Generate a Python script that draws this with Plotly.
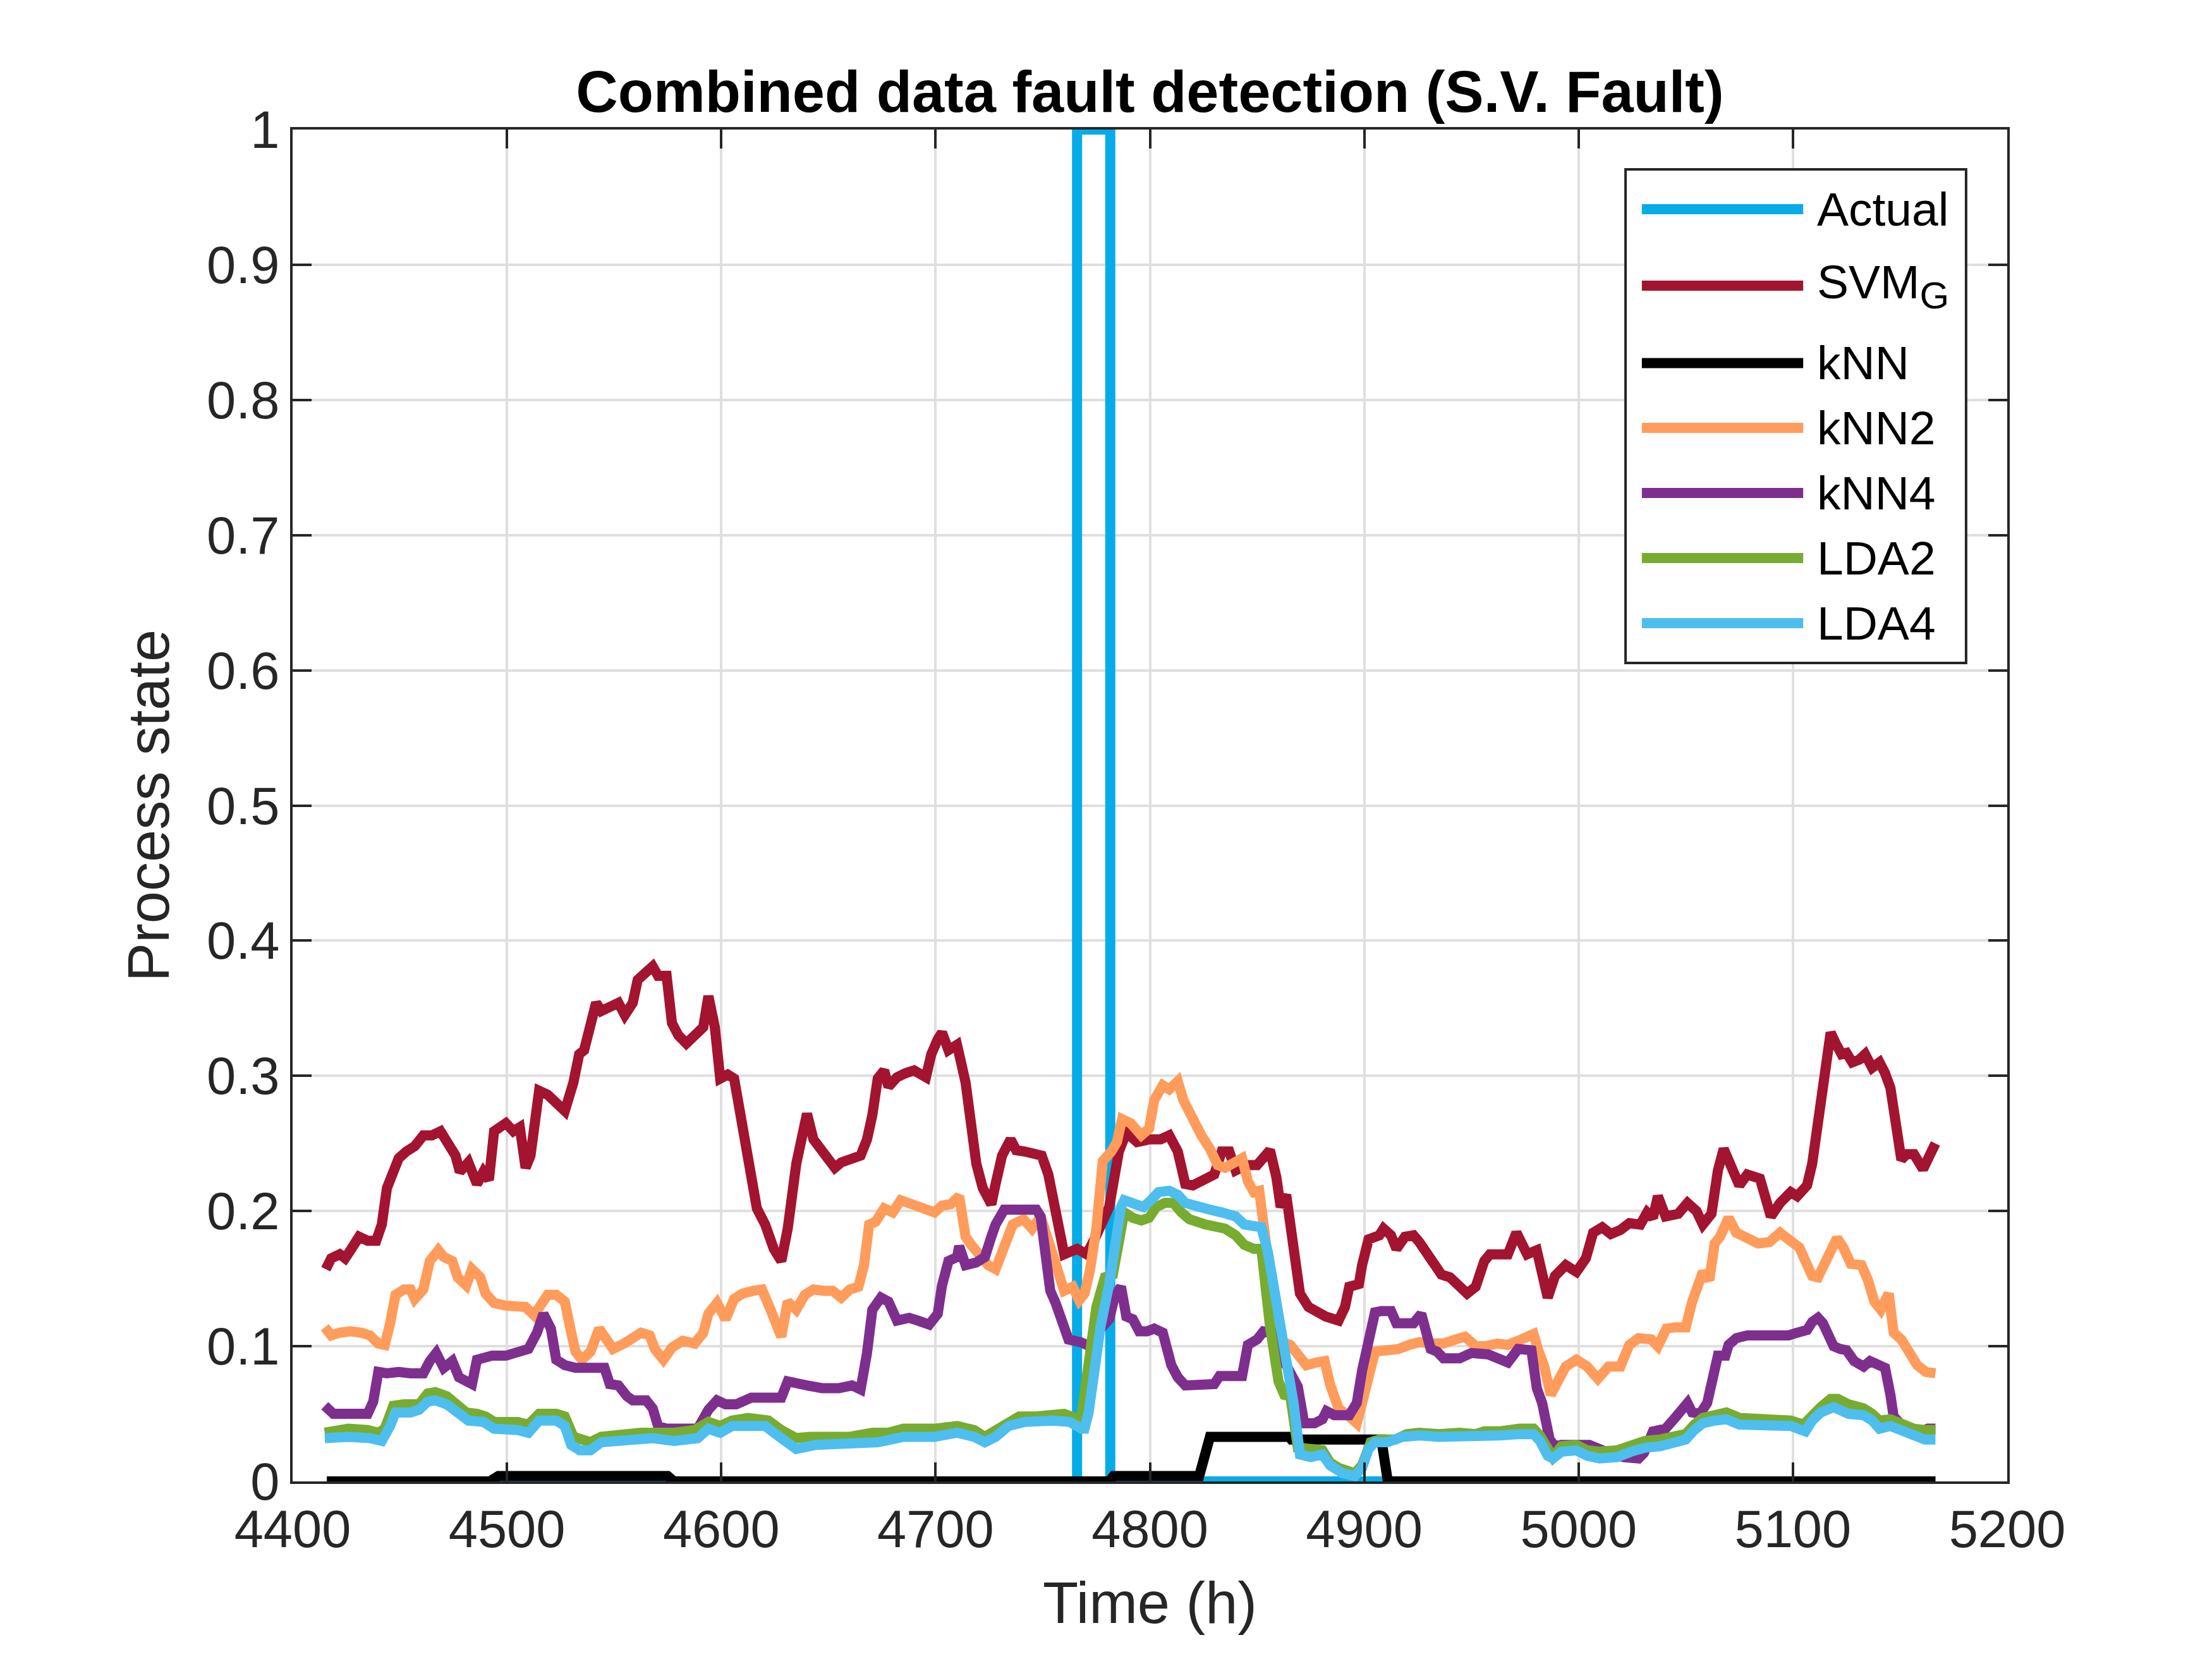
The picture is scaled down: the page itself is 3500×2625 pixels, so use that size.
import plotly.graph_objects as go

# time (h) and values, one pair of lists per series
t_actual = [4416, 4766, 4766, 4781.5, 4781.5, 5166.5]
v_actual = [0, 0, 1, 1, 0, 0]

t_svm = [4415.5, 4418, 4422, 4424.5, 4427, 4431, 4435, 4439, 4441.6, 4444, 4447, 4449.5, 4453, 4457, 4461,
         4465, 4469, 4473, 4476, 4478, 4482, 4486, 4489, 4491.6, 4494, 4499.5, 4503, 4506, 4508.7, 4511,
         4515, 4519, 4523, 4527, 4531, 4533.7, 4536, 4539, 4541.6, 4544, 4548, 4552, 4555, 4558.7, 4561,
         4565, 4568, 4570.5, 4574.5, 4577, 4580, 4583.7, 4587.6, 4591.6, 4594, 4597, 4599.5, 4603, 4606,
         4608.7, 4611, 4614, 4616.6, 4620.5, 4624.5, 4628, 4631, 4635, 4637.6, 4640, 4643, 4645.5, 4648,
         4651, 4653, 4656, 4661, 4665, 4668, 4670.5, 4673, 4676, 4678, 4682, 4686, 4690, 4695.5, 4698,
         4701, 4703, 4706, 4710, 4714, 4716.6, 4719, 4722, 4726, 4728, 4731, 4735, 4737.6, 4741.6, 4745.5,
         4749.5, 4752.6, 4756, 4760, 4766, 4770.5, 4775, 4781, 4785.5, 4789, 4794, 4799.6, 4805, 4809,
         4813, 4816.5, 4820, 4826, 4830, 4833.5, 4837, 4840, 4845, 4850, 4853, 4856, 4859, 4861, 4863.6,
         4867, 4870, 4874, 4877.7, 4882, 4888, 4891, 4893, 4897.5, 4899, 4902, 4907, 4909, 4912.5, 4915,
         4919, 4923, 4925.7, 4929.5, 4933, 4936, 4940, 4943.6, 4948, 4952, 4956, 4958.6, 4963, 4967,
         4971, 4973.7, 4976, 4980.5, 4983, 4985.6, 4989, 4994, 4999, 5003.4, 5006.8, 5011, 5015, 5019.5,
         5023.7, 5028.8, 5032, 5034.7, 5037, 5040.6, 5046.5, 5050.8, 5055, 5058, 5062, 5065, 5067.7, 5072,
         5075, 5078.7, 5084.6, 5087, 5089.7, 5094, 5099, 5102, 5106.6, 5109, 5111.7, 5114, 5117.6, 5120,
         5122.7, 5125, 5127.7, 5131, 5133.7, 5137, 5140.4, 5143, 5145.5, 5148, 5150.6, 5153, 5156.5,
         5160.7, 5163, 5166.5]
v_svm = [0.157, 0.165, 0.168, 0.165, 0.171, 0.181, 0.178, 0.178, 0.190, 0.217, 0.229, 0.239, 0.244, 0.248, 0.256,
         0.256, 0.259, 0.250, 0.241, 0.229, 0.236, 0.220, 0.229, 0.223, 0.259, 0.265, 0.259, 0.262, 0.232, 0.241,
         0.289, 0.286, 0.280, 0.274, 0.295, 0.316, 0.319, 0.336, 0.354, 0.348, 0.351, 0.354, 0.345, 0.354, 0.371,
         0.377, 0.381, 0.374, 0.374, 0.339, 0.330, 0.324, 0.329, 0.336, 0.359, 0.336, 0.298, 0.301, 0.298,
         0.271, 0.247, 0.217, 0.202, 0.190, 0.172, 0.163, 0.187, 0.235, 0.259, 0.272, 0.253, 0.247, 0.241,
         0.235, 0.232, 0.236, 0.239, 0.241, 0.253, 0.271, 0.298, 0.304, 0.292, 0.299, 0.302, 0.304, 0.299, 0.316,
         0.327, 0.332, 0.319, 0.323, 0.295, 0.265, 0.235, 0.217, 0.205, 0.220, 0.241, 0.253, 0.245, 0.244, 0.242,
         0.241, 0.227, 0.196, 0.168, 0.172, 0.168, 0.182, 0.203, 0.244, 0.258, 0.251, 0.253, 0.253, 0.256,
         0.244, 0.220, 0.219, 0.224, 0.227, 0.244, 0.244, 0.230, 0.234, 0.234, 0.239, 0.245, 0.225, 0.203, 0.212,
         0.165, 0.139, 0.129, 0.125, 0.122, 0.119, 0.129, 0.144, 0.146, 0.160, 0.179, 0.182, 0.187, 0.182, 0.172,
         0.181, 0.182, 0.177, 0.168, 0.163, 0.153, 0.151, 0.146, 0.139, 0.144, 0.163, 0.168, 0.168, 0.168,
         0.184, 0.177, 0.168, 0.171, 0.152, 0.136, 0.152, 0.160, 0.155, 0.165, 0.184, 0.188, 0.183, 0.186,
         0.191, 0.190, 0.199, 0.195, 0.211, 0.196, 0.198, 0.206, 0.200, 0.190, 0.198, 0.230, 0.246, 0.227,
         0.219, 0.227, 0.224, 0.211, 0.196, 0.206, 0.214, 0.211, 0.219, 0.235, 0.267, 0.294, 0.332, 0.324,
         0.316, 0.317, 0.310, 0.312, 0.316, 0.306, 0.310, 0.302, 0.291, 0.265, 0.238, 0.242, 0.242,
         0.231, 0.240, 0.250]

t_knn = [4416, 4492, 4496, 4575, 4578, 4781, 4783, 4823, 4828, 4865, 4866, 4908, 4911, 5166.5]
v_knn = [0, 0, 0.004, 0.004, 0, 0, 0.004, 0.004, 0.033, 0.033, 0.031, 0.031, 0, 0]

t_knn2 = [4415, 4418, 4422, 4427, 4432, 4436, 4440, 4443, 4445.5, 4448, 4452, 4455, 4457, 4461, 4464, 4468,
          4470.5, 4474.5, 4477, 4481, 4483.7, 4487.6, 4490, 4494, 4499.5, 4505, 4508.7, 4512.6, 4515, 4519,
          4523, 4527, 4530, 4532, 4535, 4539, 4543, 4545.5, 4549.5, 4554.7, 4558.7, 4562.6, 4566.6, 4569,
          4573, 4577, 4582, 4587.6, 4591.6, 4594, 4598, 4602, 4606, 4610, 4615, 4619, 4623, 4626, 4628, 4631,
          4635, 4639, 4643, 4648, 4652, 4656, 4660, 4664, 4666.6, 4669, 4672, 4676, 4680, 4683.7, 4689, 4694,
          4699.5, 4703, 4707, 4711, 4714, 4716.6, 4720.5, 4724.5, 4728, 4732, 4736, 4741, 4745, 4749, 4752.6,
          4756, 4760, 4764, 4767, 4769.5, 4772, 4775, 4778, 4782, 4784.6, 4787, 4791, 4796, 4799.6, 4802,
          4806, 4809, 4813, 4815.6, 4819, 4824, 4828, 4831.6, 4835, 4840, 4843, 4845.7, 4848.5, 4851, 4854,
          4858, 4862, 4865.5, 4869, 4873, 4877.7, 4881.5, 4884, 4888, 4893, 4896.5, 4899, 4902, 4905, 4910.6,
          4916, 4921, 4925.7, 4931, 4937, 4942.6, 4947, 4952, 4956.7, 4962, 4967, 4971.8, 4975, 4979, 4981,
          4984, 4987, 4990.7, 4994, 4999, 5004, 5009, 5014, 5019.5, 5023.7, 5028, 5034, 5037, 5041, 5045,
          5050, 5053, 5056, 5058, 5061, 5063.5, 5066, 5070, 5073.6, 5078.7, 5083.8, 5089, 5094, 5098, 5103,
          5105.8, 5109, 5111.7, 5115, 5117.6, 5120.6, 5123.5, 5127, 5132, 5135, 5138, 5141, 5144.7, 5147,
          5150.6, 5154, 5158, 5162, 5166.5]
v_knn2 = [0.114, 0.108, 0.110, 0.111, 0.110, 0.108, 0.102, 0.101, 0.117, 0.138, 0.142, 0.142, 0.135, 0.142, 0.163, 0.171,
          0.166, 0.163, 0.151, 0.145, 0.157, 0.151, 0.139, 0.132, 0.130, 0.130, 0.129, 0.123, 0.130, 0.138,
          0.138, 0.133, 0.110, 0.096, 0.090, 0.096, 0.113, 0.107, 0.098, 0.102, 0.107, 0.110, 0.108, 0.098,
          0.090, 0.099, 0.104, 0.102, 0.110, 0.124, 0.132, 0.120, 0.135, 0.139, 0.141, 0.142, 0.127, 0.116, 0.107, 0.133,
          0.127, 0.138, 0.142, 0.141, 0.141, 0.136, 0.142, 0.144, 0.160, 0.190, 0.192, 0.202, 0.199, 0.208, 0.205, 0.202,
          0.199, 0.204, 0.205, 0.211, 0.181, 0.175, 0.166, 0.160, 0.157, 0.175, 0.190, 0.194, 0.187, 0.196, 0.177,
          0.156, 0.141, 0.144, 0.134, 0.139, 0.156, 0.187, 0.237, 0.244, 0.251, 0.268, 0.265, 0.256, 0.261, 0.282,
          0.293, 0.290, 0.296, 0.282, 0.270, 0.256, 0.246, 0.234, 0.232, 0.237, 0.239, 0.222, 0.214, 0.215, 0.177,
          0.129, 0.103, 0.101, 0.094, 0.086, 0.088, 0.089, 0.072, 0.054, 0.048, 0.043, 0.058, 0.074, 0.096, 0.097,
          0.098, 0.101, 0.103, 0.102, 0.102, 0.105, 0.107, 0.100, 0.100, 0.102, 0.101, 0.104, 0.106, 0.109, 0.098,
          0.085, 0.064, 0.074, 0.085, 0.090, 0.085, 0.076, 0.085, 0.085, 0.101, 0.106, 0.105, 0.100, 0.113, 0.114,
          0.114, 0.133, 0.149, 0.155, 0.149, 0.176, 0.181, 0.195, 0.184, 0.180, 0.176, 0.177, 0.184, 0.179, 0.173,
          0.163, 0.152, 0.151, 0.163, 0.173, 0.180, 0.173, 0.161, 0.160, 0.149, 0.133, 0.127, 0.139, 0.110,
          0.105, 0.096, 0.086, 0.081, 0.080]

t_knn4 = [4415, 4419, 4426, 4435, 4437.6, 4440, 4444, 4449.5, 4455, 4461, 4464, 4467, 4470.5, 4474.5, 4477.6,
          4481, 4483.7, 4486, 4489, 4493, 4499.5, 4505, 4510, 4514, 4517, 4520.5, 4523, 4527, 4532, 4539,
          4545.5, 4548, 4552, 4556, 4558.7, 4565, 4568, 4570.5, 4574.5, 4581, 4589, 4594, 4598, 4602, 4607,
          4614, 4620.5, 4628, 4631, 4635, 4640, 4647, 4655, 4661, 4665, 4668, 4670.5, 4674.5, 4678, 4682,
          4687.6, 4691.6, 4697, 4701, 4703, 4706, 4710, 4711, 4714, 4719, 4723, 4726, 4728, 4732, 4737.6,
          4747, 4749, 4751.6, 4753.5, 4756, 4759, 4762, 4767.6, 4772, 4777, 4781, 4783.6, 4786.5, 4789, 4792,
          4795, 4798.7, 4802, 4806, 4810, 4813, 4816.5, 4824, 4830, 4832.5, 4839, 4843, 4845.7, 4850, 4853,
          4857, 4860, 4863.6, 4869, 4872, 4876.8, 4880.5, 4882.4, 4886, 4893, 4896.5, 4899, 4902, 4905, 4908,
          4912.5, 4915, 4923, 4926.6, 4929.5, 4931, 4934, 4937, 4944.5, 4950, 4957.7, 4962, 4967, 4971.8,
          4976, 4978, 4980.5, 4983, 4986.5, 4989, 4992, 4999, 5005, 5012.7, 5021, 5028, 5030.5, 5034.7, 5040.6,
          5045, 5048, 5050.8, 5053, 5056.7, 5060, 5062.6, 5065, 5068.5, 5070, 5073.6, 5078.7, 5089, 5098,
          5102, 5106.6, 5109, 5111.7, 5114, 5116.8, 5119, 5122, 5125, 5128.6, 5133, 5136, 5140.4, 5143,
          5145.5, 5147, 5150.6, 5155.7, 5160, 5163, 5166.5]
v_knn4 = [0.056, 0.050, 0.050, 0.050, 0.059, 0.081, 0.080, 0.081, 0.080, 0.080, 0.089, 0.095, 0.084, 0.089, 0.077,
          0.075, 0.072, 0.090, 0.092, 0.093, 0.093, 0.095, 0.098, 0.110, 0.124, 0.113, 0.090, 0.086, 0.084, 0.084,
          0.084, 0.072, 0.071, 0.063, 0.060, 0.060, 0.054, 0.041, 0.039, 0.039, 0.039, 0.053, 0.060, 0.057, 0.057,
          0.062, 0.062, 0.062, 0.074, 0.072, 0.071, 0.069, 0.069, 0.071, 0.068, 0.095, 0.127, 0.136, 0.133, 0.119,
          0.121, 0.119, 0.116, 0.124, 0.145, 0.163, 0.166, 0.174, 0.160, 0.162, 0.166, 0.181, 0.190, 0.201, 0.201,
          0.201, 0.196, 0.163, 0.141, 0.132, 0.120, 0.105, 0.103, 0.100, 0.113, 0.120, 0.137, 0.144, 0.122, 0.120,
          0.111, 0.111, 0.113, 0.110, 0.086, 0.077, 0.071, 0.071, 0.072, 0.078, 0.078, 0.078, 0.101, 0.105, 0.111,
          0.110, 0.091, 0.086, 0.070, 0.043, 0.043, 0.046, 0.052, 0.049, 0.049, 0.058, 0.082, 0.105, 0.125, 0.126,
          0.126, 0.117, 0.117, 0.124, 0.108, 0.098, 0.096, 0.091, 0.091, 0.095, 0.094, 0.092, 0.088, 0.098,
          0.098, 0.097, 0.069, 0.058, 0.031, 0.026, 0.027, 0.027, 0.027, 0.022, 0.018, 0.017, 0.021, 0.037, 0.039,
          0.047, 0.054, 0.058, 0.051, 0.050, 0.058, 0.077, 0.093, 0.093, 0.101, 0.106, 0.108, 0.108, 0.108,
          0.110, 0.112, 0.118, 0.121, 0.117, 0.109, 0.100, 0.098, 0.097, 0.089, 0.085, 0.089, 0.086, 0.084,
          0.064, 0.048, 0.042, 0.037, 0.037, 0.039, 0.039]

t_lda2 = [4415, 4426, 4435, 4440, 4443, 4447, 4452, 4459, 4463, 4466.6, 4472, 4477, 4481, 4486, 4490, 4494,
          4505, 4510, 4515, 4523, 4527, 4531, 4535, 4539, 4544, 4552, 4562.6, 4573, 4578, 4587.6, 4594, 4599.5,
          4605, 4612.6, 4622, 4628, 4635, 4641.6, 4652, 4660, 4670.5, 4678, 4685, 4699.5, 4710, 4718, 4723,
          4728, 4734, 4739, 4747, 4755, 4760, 4765, 4768, 4772, 4775, 4779, 4782.7, 4785.5, 4788, 4792, 4796,
          4799.6, 4803, 4807, 4811, 4814.7, 4818.4, 4826, 4835, 4840, 4844, 4848.5, 4852, 4856, 4860, 4862.7,
          4865.5, 4869, 4875, 4880.5, 4884, 4888, 4895.6, 4899, 4903, 4907, 4914.4, 4920, 4925.7, 4935, 4944.5,
          4952, 4956, 4963, 4972.6, 4979, 4982, 4985.6, 4988, 4992, 4999, 5004, 5010, 5018, 5024.5, 5031, 5038,
          5045, 5050, 5054, 5058, 5063.5, 5069, 5075, 5084, 5092, 5099, 5105, 5109, 5113, 5117.6, 5121, 5126,
          5133, 5137, 5140.4, 5145.5, 5151, 5156.5, 5161.6, 5166.5]
v_lda2 = [0.036, 0.039, 0.038, 0.036, 0.039, 0.056, 0.057, 0.057, 0.065, 0.066, 0.063, 0.057, 0.051, 0.050, 0.048, 0.044,
          0.044, 0.042, 0.050, 0.050, 0.048, 0.033, 0.030, 0.029, 0.033, 0.035, 0.036, 0.036, 0.036, 0.038, 0.044, 0.041,
          0.045, 0.047, 0.045, 0.038, 0.032, 0.033, 0.033, 0.033, 0.036, 0.036, 0.039, 0.039, 0.041, 0.038, 0.033,
          0.038, 0.045, 0.048, 0.048, 0.050, 0.050, 0.047, 0.047, 0.094, 0.129, 0.151, 0.153, 0.177, 0.199, 0.195, 0.193,
          0.195, 0.203, 0.206, 0.206, 0.199, 0.194, 0.190, 0.187, 0.182, 0.175, 0.172, 0.172, 0.115, 0.074, 0.064,
          0.063, 0.025, 0.024, 0.023, 0.014, 0.010, 0.006, 0.012, 0.029, 0.031, 0.031, 0.035, 0.036, 0.035, 0.036,
          0.035, 0.037, 0.037, 0.039, 0.039, 0.034, 0.022, 0.018, 0.026, 0.027, 0.023, 0.022, 0.023, 0.027, 0.030, 0.031,
          0.033, 0.035, 0.042, 0.047, 0.049, 0.051, 0.047, 0.046, 0.046, 0.045, 0.042, 0.050, 0.055, 0.061, 0.061, 0.057,
          0.054, 0.050, 0.045, 0.046, 0.042, 0.039, 0.038, 0.038]

t_lda4 = [4415, 4426, 4436, 4441.6, 4445.5, 4448, 4455, 4459, 4463, 4466.6, 4472, 4477, 4482, 4489, 4494, 4505,
          4510, 4515, 4523, 4527, 4530, 4534, 4539, 4544, 4552, 4568, 4578, 4589, 4594, 4599.5, 4605, 4620.5,
          4628, 4635, 4644, 4660, 4673, 4685, 4699.5, 4710, 4718, 4723, 4728, 4734, 4741.6, 4755, 4762.6, 4768,
          4769.5, 4771.4, 4774, 4777, 4781, 4783.6, 4786.5, 4788, 4792, 4797, 4800.5, 4804, 4809, 4813, 4816.5,
          4822, 4828, 4833.5, 4840, 4844, 4848.5, 4852, 4855, 4858, 4861.7, 4865.5, 4867, 4870, 4875, 4880.5,
          4884, 4890, 4895.6, 4899, 4902, 4905, 4910.6, 4918, 4925.7, 4935, 4944.5, 4954, 4963, 4972.6, 4979,
          4982, 4985.6, 4988, 4992, 4999, 5004, 5010, 5018, 5024.5, 5031, 5038, 5045, 5050, 5054, 5058, 5063.5,
          5069, 5075, 5084, 5092, 5099, 5105.8, 5109, 5113, 5119, 5126, 5133, 5137, 5140.4, 5145.5, 5151,
          5156.5, 5161.6, 5166.5]
v_lda4 = [0.032, 0.033, 0.032, 0.030, 0.041, 0.051, 0.051, 0.053, 0.059, 0.060, 0.057, 0.051, 0.045, 0.044, 0.039, 0.038,
          0.036, 0.045, 0.045, 0.041, 0.027, 0.023, 0.023, 0.029, 0.030, 0.032, 0.030, 0.032, 0.039, 0.036, 0.041, 0.041,
          0.032, 0.024, 0.027, 0.029, 0.029, 0.033, 0.033, 0.036, 0.033, 0.029, 0.033, 0.041, 0.044, 0.045, 0.044, 0.039,
          0.039, 0.051, 0.084, 0.115, 0.146, 0.175, 0.203, 0.208, 0.206, 0.203, 0.208, 0.214, 0.215, 0.212, 0.206,
          0.203, 0.201, 0.199, 0.196, 0.190, 0.188, 0.188, 0.170, 0.141, 0.105, 0.079, 0.058, 0.020, 0.018, 0.020,
          0.012, 0.006, 0.004, 0.010, 0.024, 0.029, 0.029, 0.033, 0.034, 0.033, 0.033, 0.033, 0.034, 0.035, 0.035,
          0.030, 0.019, 0.017, 0.022, 0.023, 0.019, 0.017, 0.018, 0.022, 0.025, 0.026, 0.029, 0.031, 0.038, 0.043, 0.045,
          0.046, 0.042, 0.042, 0.042, 0.041, 0.037, 0.045, 0.051, 0.055, 0.050, 0.049, 0.045, 0.039, 0.041, 0.037,
          0.033, 0.031, 0.031]

names = ["Actual", "SVM<sub><span style='font-size:60px'>G</span></sub>", "kNN", "kNN2", "kNN4", "LDA2", "LDA4"]
colors = ["#06ACE8", "#A2142F", "#000000", "#FF9C5B", "#7E2F8E", "#77AC30", "#4DBEEE"]
series = [(t_actual, v_actual), (t_svm, v_svm), (t_knn, v_knn), (t_knn2, v_knn2),
          (t_knn4, v_knn4), (t_lda2, v_lda2), (t_lda4, v_lda4)]

axis_col = "#262626"
font_name = "Liberation Sans, Arial, sans-serif"

fig = go.Figure()
for (t, v), name, col in zip(series, names, colors):
    fig.add_trace(go.Scatter(x=t, y=v, mode="lines", name=name,
                             line=dict(color=col, width=16), showlegend=False))

# legend drawn by hand so the line samples are as long as in the original
lx0, lx1 = 0.7774, 0.9760
ly0, ly1 = 0.6054, 0.9706
fig.add_shape(type="rect", xref="paper", yref="paper", x0=lx0, x1=lx1, y0=ly0, y1=ly1,
              line=dict(color=axis_col, width=4), fillcolor="white", layer="above")
row_y = [0.9411, 0.8845, 0.8273, 0.7793, 0.7312, 0.6830, 0.6349]
for name, col, ry in zip(names, colors, row_y):
    fig.add_shape(type="line", xref="paper", yref="paper", x0=0.7869, x1=0.8810, y0=ry, y1=ry,
                  line=dict(color=col, width=16), layer="above")
    fig.add_annotation(xref="paper", yref="paper", x=0.8883, y=ry, text=name, showarrow=False,
                       xanchor="left", yanchor="middle",
                       font=dict(family=font_name, size=75, color="black"))

axis_style = dict(showline=True, linecolor=axis_col, linewidth=4, mirror="ticks",
                  ticks="inside", ticklen=30, tickwidth=4, tickcolor=axis_col,
                  showgrid=True, gridcolor="#DFDFDF", gridwidth=4, zeroline=False,
                  tickfont=dict(family=font_name, size=83, color=axis_col))

fig.update_layout(
    width=3500, height=2625,
    margin=dict(l=455, r=332, t=197, b=289),
    paper_bgcolor="white", plot_bgcolor="white",
    title=dict(text="Combined data fault detection (S.V. Fault)", x=0.5, xref="paper",
               y=0.948, yref="container", yanchor="middle", xanchor="center",
               font=dict(family=font_name, size=92, color="black", weight="bold")),
    xaxis=dict(range=[4400, 5200], dtick=100, tick0=4400,
               title=dict(text="Time (h)", standoff=40,
                          font=dict(family=font_name, size=92, color=axis_col)),
               **axis_style),
    yaxis=dict(range=[0, 1], dtick=0.1, tick0=0,
               title=dict(text="Process state", standoff=30,
                          font=dict(family=font_name, size=92, color=axis_col)),
               **axis_style),
)

fig.write_html("out.html")
